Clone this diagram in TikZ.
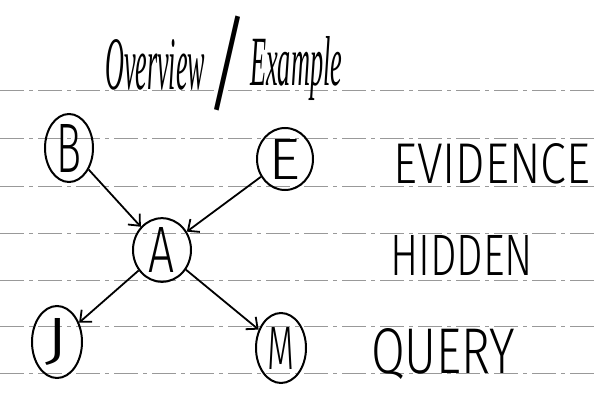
\documentclass[tikz,border=0pt]{standalone}
\usepackage{fontspec}
\setmainfont{Fira Sans Light}
\newfontfamily\titlefont{Liberation Serif}
\usepackage{graphicx}
\usetikzlibrary{shapes.geometric,arrows.meta}
\begin{document}
\begin{tikzpicture}[x=1pt,y=-1pt,
  rule/.style={draw=black!40,line width=1pt,dash pattern=on 24pt off 5pt on 4pt off 5pt},
  var/.style={ellipse,draw=black,line width=2pt,inner sep=0pt},
  lbl/.style={anchor=base west,inner sep=0pt},
  edge/.style={-{Straight Barb[length=9pt,width=16pt,line width=1.8pt]},line width=1.8pt}]
\useasboundingbox[fill=white] (0,0) rectangle (598,412);
\foreach \y in {91,139,186,233,280,326,373}
  \draw[rule] (0,\y) -- (598,\y);
% title
\node[lbl] (ov) at (105,90) {\resizebox{100pt}{50pt}{\titlefont\itshape Overview}};
\node[inner sep=0pt] (sl) at (228,63) {\resizebox*{48pt}{95pt}{/}};
\node[lbl] (ex) at (250,85) {\resizebox{92pt}{49pt}{\titlefont\itshape Example}};
% variables
\node[var,minimum width=48pt,minimum height=68pt] (B) at (69,148) {\resizebox{25pt}{48pt}{B}};
\node[var,minimum width=56pt,minimum height=62pt] (E) at (285,159) {\resizebox{32pt}{40pt}{E}};
\node[var,minimum width=58pt,minimum height=60pt] (A) at (162,250) {\resizebox{26pt}{45pt}{A}};
\node[var,minimum width=50pt,minimum height=72pt] (J) at (57,342) {\resizebox{25pt}{40pt}{J}};
\node[var,minimum width=50pt,minimum height=70pt] (M) at (281,348) {\resizebox{27pt}{42pt}{M}};
% edges
\draw[edge] (B) -- (A);
\draw[edge] (E) -- (A);
\draw[edge] (A) -- (J);
\draw[edge] (A) -- (M);
% labels
\node[lbl] (ev) at (393,183) {\resizebox{197pt}{40pt}{EVIDENCE}};
\node[lbl] (hid) at (390,275) {\resizebox{143pt}{40pt}{HIDDEN}};
\node[lbl] (qu) at (371,373) {\resizebox{144pt}{45pt}{QUERY}};
\end{tikzpicture}
\end{document}
